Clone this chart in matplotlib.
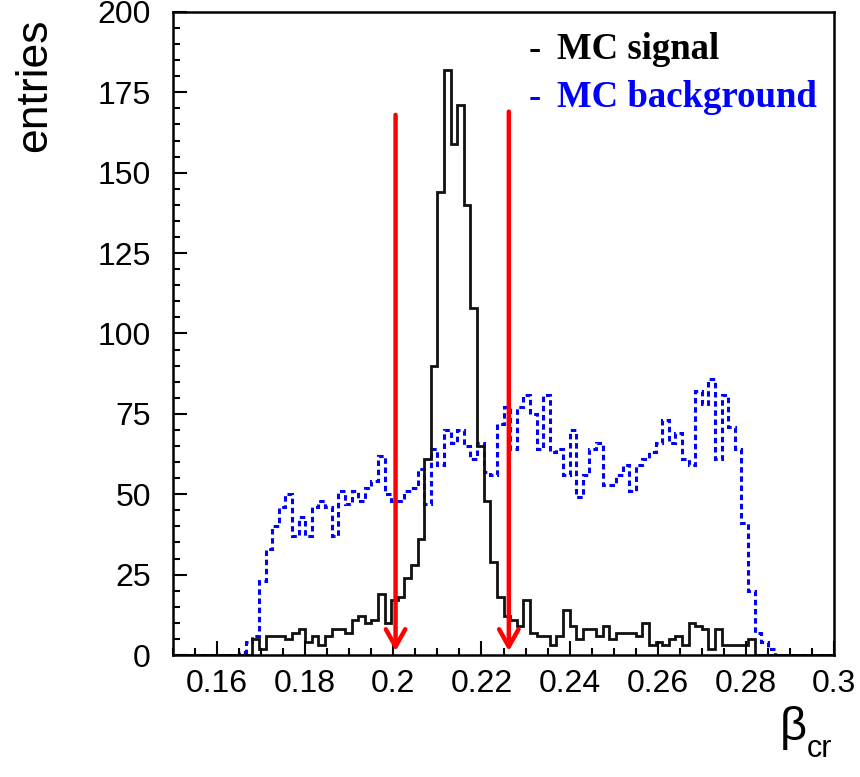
import numpy as np
import matplotlib
matplotlib.use("Agg")
import matplotlib.pyplot as plt

# histogram binning: 100 bins between 0.15 and 0.30
x_min, x_max, n_bins = 0.15, 0.30, 100

signal = [0, 0, 0, 0, 0, 0, 0, 0, 0, 0,
          0, 0, 5, 2, 6, 6, 6, 5, 7, 8,
          4, 6, 3, 6, 8, 8, 7, 11, 12, 10,
          11, 19, 10, 17, 18, 24, 28, 36, 61, 90,
          144, 182, 159, 171, 140, 108, 65, 48, 29, 18,
          12, 11, 9, 17, 7, 6, 6, 3, 6, 14,
          9, 5, 8, 8, 6, 9, 5, 7, 7, 7,
          6, 10, 3, 4, 3, 5, 6, 3, 10, 9,
          8, 2, 8, 3, 3, 3, 3, 5, 0, 0,
          0, 0, 0, 0, 0, 0, 0, 0, 0, 0]

background = [0, 0, 0, 0, 0, 0, 0, 0, 0, 0,
              1, 4, 6, 23, 33, 40, 46, 50, 37, 43,
              37, 46, 48, 46, 37, 51, 47, 51, 48, 52,
              54, 62, 50, 48, 48, 51, 52, 58, 47, 64,
              59, 70, 66, 70, 65, 61, 66, 57, 56, 72,
              77, 64, 77, 81, 75, 64, 81, 63, 64, 56,
              70, 49, 56, 64, 66, 53, 53, 56, 59, 51,
              59, 61, 63, 66, 73, 66, 69, 61, 59, 82,
              78, 86, 61, 81, 71, 64, 41, 20, 7, 4,
              2, 0, 0, 0, 0, 0, 0, 0, 0, 0]

cut_values = [0.2005, 0.2262]
arrow_top = [168, 169]

edges = np.linspace(x_min, x_max, n_bins + 1)

fig = plt.figure(figsize=(8.6, 7.77), dpi=100)
ax = fig.add_axes([0.2012, 0.157, 0.7686, 0.8276])

ax.stairs(background, edges, color="#0000ff", lw=2.2, linestyle=(0, (1.8, 1.2)))
ax.stairs(signal, edges, color="#111111", lw=2.0)

for xc, top in zip(cut_values, arrow_top):
    ax.annotate("", xy=(xc, 1.2), xytext=(xc, top),
                arrowprops=dict(arrowstyle="->,head_length=1.25,head_width=0.7",
                                color="#ff0000", lw=3.2, shrinkA=0, shrinkB=0))

ax.set_xlim(x_min, x_max)
ax.set_ylim(0, 200)

ax.set_xticks(np.arange(0.16, 0.301, 0.02))
ax.set_xticklabels(["0.16", "0.18", "0.2", "0.22", "0.24", "0.26", "0.28", "0.3"])
ax.set_xticks(np.arange(0.15, 0.3001, 0.005), minor=True)
ax.set_yticks(np.arange(0, 201, 25))
ax.set_yticks(np.arange(0, 201, 5), minor=True)

ax.tick_params(which="both", direction="in", top=False, right=False, width=1.5)
ax.tick_params(which="major", length=10, labelsize=23)
ax.tick_params(axis="y", which="major", pad=16)
ax.tick_params(axis="x", which="major", pad=10)
ax.tick_params(which="minor", length=5)
for lab in ax.get_xticklabels() + ax.get_yticklabels():
    lab.set_family("Liberation Sans")
for sp in ax.spines.values():
    sp.set_linewidth(1.8)

fig.text(0.04, 0.89, "entries", rotation=90, ha="center", va="center",
         fontsize=32, family="Liberation Sans")
fig.text(0.907, 0.0625, "β", ha="left", va="center",
         fontsize=34, family="Liberation Sans")
fig.text(0.938, 0.036, "cr", ha="left", va="center",
         fontsize=22, family="Liberation Sans")

ax.text(0.2308, 188.3, "-", color="black", fontsize=26.5, weight="bold",
        family="Liberation Serif", va="center")
ax.text(0.2371, 188.3, "MC signal", color="black", fontsize=26.5, weight="bold",
        family="Liberation Serif", va="center")
ax.text(0.2308, 173.5, "-", color="#0000ff", fontsize=26.5, weight="bold",
        family="Liberation Serif", va="center")
ax.text(0.2371, 173.5, "MC background", color="#0000ff", fontsize=26.5, weight="bold",
        family="Liberation Serif", va="center")

fig.savefig("out.png", dpi=100)
